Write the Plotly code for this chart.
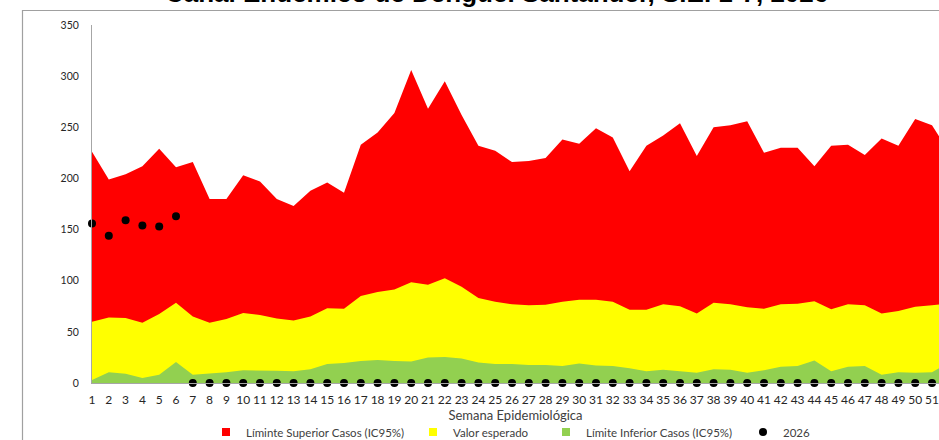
import plotly.graph_objects as go

weeks = list(range(1, 53))

upper_limit = [226, 199, 204, 212, 229, 211, 216, 180, 180, 203, 197, 180, 173, 188,
               196, 186, 233, 245, 264, 306, 268, 295, 262, 232, 227, 216, 217, 220,
               238, 234, 249, 240, 207, 232, 242, 254, 222, 250, 252, 256, 225, 230,
               230, 212, 232, 233, 223, 239, 232, 258, 252, 226]

expected = [60, 64, 63.5, 59, 67.5, 78.5, 65, 59, 62.5, 68.5, 66.5, 63, 61, 65,
            73, 72.5, 85, 89, 91.5, 98.5, 96, 102.5, 94, 83, 79.5, 77, 76, 76.5,
            79.5, 81.5, 81.5, 79.5, 71.5, 71.5, 77, 75, 68, 78.5, 77, 74, 72.5, 77,
            77.5, 80, 72, 77, 76, 68, 70.5, 74.5, 76, 78]

lower_limit = [3, 10.5, 9, 5, 8, 20.5, 8, 9, 10.5, 12.5, 12.5, 12, 11.5, 13.5,
               18.5, 19.5, 21.5, 22.5, 21.5, 21, 25, 25.5, 24, 20, 18.5, 18.5, 17.5, 17.5,
               16.5, 19, 17, 16.5, 14.5, 11.5, 13, 11.5, 10, 13.5, 13, 10, 12.5, 16,
               16.5, 22, 11.5, 16, 16.5, 8, 10.5, 10, 10.5, 20]

cases_2026 = [156, 144, 159, 154, 153, 163, 0, 0, 0, 0, 0, 0, 0, 0,
              0, 0, 0, 0, 0, 0, 0, 0, 0, 0, 0, 0, 0, 0,
              0, 0, 0, 0, 0, 0, 0, 0, 0, 0, 0, 0, 0, 0,
              0, 0, 0, 0, 0, 0, 0, 0, 0, 0]

y_ticks = [0, 50, 100, 150, 200, 250, 300, 350]

names = ["Líminte Superior Casos (IC95%)", "Valor esperado",
         "Límite Inferior Casos (IC95%)", "2026"]
colors = ["#FF0000", "#FFFF00", "#92D050", "#000000"]

W, H = 939, 440
ML, MR, MT, MB = 92, 0, 25, 57
PW, PH = W - ML - MR, H - MT - MB


def px_x(p):
    return (p - ML) / PW


def px_y(p):
    return (H - MB - p) / PH


fig = go.Figure()

for vals, name, col in [(upper_limit, names[0], colors[0]),
                        (expected, names[1], colors[1]),
                        (lower_limit, names[2], colors[2])]:
    fig.add_trace(go.Scatter(x=weeks, y=vals, mode="lines", fill="tozeroy",
                             fillcolor=col, line=dict(width=0, color=col),
                             name=name, showlegend=False, hoverinfo="x+y+name"))

fig.add_trace(go.Scatter(x=weeks, y=cases_2026, mode="markers", name=names[3],
                         marker=dict(color="#000000", size=8), cliponaxis=False,
                         showlegend=False))

# legend entries
legend_text_x = [246, 453, 586, 783]
for i, (name, col) in enumerate(zip(names, colors)):
    lg = "legend" if i == 0 else f"legend{i + 1}"
    sym = "circle" if i == 3 else "square"
    fig.add_trace(go.Scatter(x=[None], y=[None], mode="markers", name=name,
                             marker=dict(color=col, size=8, symbol=sym),
                             legend=lg, showlegend=True))
    fig.update_layout(**{lg: dict(x=px_x(legend_text_x[i] - 40), y=px_y(432),
                                  xanchor="left", yanchor="middle",
                                  orientation="h", bgcolor="rgba(0,0,0,0)",
                                  font=dict(family="Lato", size=11.5, color="#404040"))})

fig.update_layout(
    width=W, height=H,
    margin=dict(l=ML, r=MR, t=MT, b=MB, autoexpand=False),
    paper_bgcolor="white", plot_bgcolor="white",
    xaxis=dict(range=[1, 1 + (PW / 16.8)], tickmode="array", tickvals=weeks,
               ticktext=[str(w) for w in weeks], showgrid=False, zeroline=False,
               showline=True, linecolor="#A6A6A6", linewidth=1, ticks="",
               ticklabelstandoff=6,
               tickfont=dict(family="Lato", size=12, color="#262626"),
               title=dict(text="Semana Epidemiológica", standoff=2,
                          font=dict(family="Lato", size=13, color="#404040"))),
    yaxis=dict(range=[0, 350], tickvals=y_ticks, showgrid=False, zeroline=False,
               showline=True, linecolor="#A6A6A6", linewidth=1, ticks="",
               ticklabelstandoff=10,
               tickfont=dict(family="Lato", size=10.5, color="#262626")),
    shapes=[dict(type="rect", xref="paper", yref="paper",
                 x0=px_x(22.5), x1=1.3, y0=-0.5, y1=px_y(10.5),
                 line=dict(color="#A0A0A0", width=1.2), layer="above")],
    annotations=[dict(text="<b>Canal Endémico de Dengue. Santander, S.E. 1-7, 2026</b>",
                      xref="paper", yref="paper", x=px_x(496), y=px_y(10),
                      xanchor="center", yanchor="bottom", showarrow=False,
                      font=dict(family="Liberation Sans", size=26, color="#000000"))],
)

fig.write_html("out.html",
               config={"displayModeBar": False},
               post_script="document.body.style.margin='0';"
                           "document.body.style.overflow='hidden';")
